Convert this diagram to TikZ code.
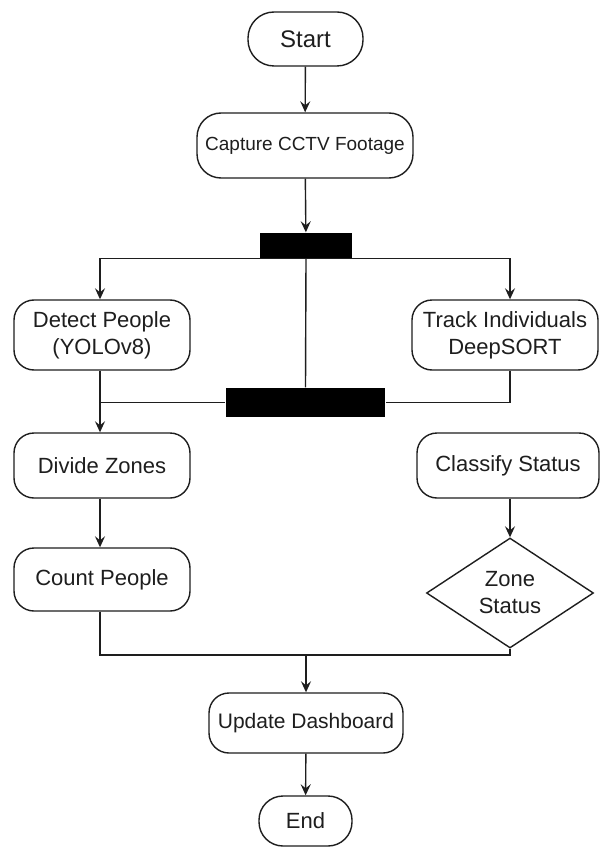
\documentclass[tikz,border=0pt]{standalone}
\usepackage{fontspec}
\setmainfont{Liberation Sans}
\usetikzlibrary{shapes.geometric,arrows.meta,calc}
\definecolor{ink}{RGB}{30,30,30}

\begin{document}
\begin{tikzpicture}[x=1pt,y=-1pt,
  line width=1.4pt, draw=ink, text=ink,
  txt/.style={font=\fontsize{22}{27}\selectfont, align=center, inner sep=0pt},
  term/.style={txt, draw=ink, fill=white},
  proc/.style={txt, draw=ink, fill=white, rounded corners=20pt},
  bar/.style={fill=black, draw=none, inner sep=0pt},
  decision/.style={txt, draw=ink, fill=white, diamond, aspect=1.52},
  link/.style={draw=ink},
  arr/.style={draw=ink, -{Stealth[length=11pt,width=10pt,inset=4pt]}}]

  \fill[white] (0,0) rectangle (601,850);
  \useasboundingbox (0,0) rectangle (601,850);

  % shared vertical lanes for the two branches
  \coordinate (lc) at (100,0);
  \coordinate (rc) at (510,0);

  % nodes
  \node[term, rounded corners=26pt, minimum width=115pt, minimum height=54pt,
        font=\fontsize{24}{28}\selectfont] (start) at (305.5,39) {Start};
  \node[proc, rounded corners=24pt, minimum width=216pt, minimum height=65pt,
        font=\fontsize{19}{23}\selectfont] (capture) at (305,145.5) {Capture CCTV Footage};
  \node[bar, minimum width=92pt, minimum height=25pt] (fork) at (306,245.5) {};

  \node[proc, minimum width=176pt, minimum height=70pt] (detect) at (102,335)
        {Detect People\\(YOLOv8)};
  \node[proc, minimum width=186pt, minimum height=70pt] (track) at (505,335)
        {Track Individuals\\DeepSORT};
  \node[bar, minimum width=159pt, minimum height=29pt] (join) at (305.5,402.5) {};

  \node[proc, minimum width=176pt, minimum height=65pt] (divide) at (102,465.5) {Divide Zones};
  \node[proc, minimum width=182pt, minimum height=65pt] (classify) at (508,465.5) {Classify Status};
  \node[proc, minimum width=176pt, minimum height=63pt] (count) at (102,579.5) {Count People};
  \node[decision, minimum width=167pt, minimum height=110pt, inner sep=0pt] (zone) at (510,593)
        {Zone\\Status};

  \coordinate (merge) at (306,655);

  \node[proc, minimum width=194pt, minimum height=60pt,
        font=\fontsize{21}{25}\selectfont] (update) at (306,723) {Update Dashboard};
  \node[term, rounded corners=24pt, minimum width=93pt, minimum height=50pt] (finish) at (305.5,821) {End};

  % connectors
  \draw[arr] (start) -- (capture);
  \draw[arr] (capture) -- (fork);
  \draw[arr] (fork.south) -| (detect.north -| lc);
  \draw[arr] (fork.south) -| (track.north -| rc);
  \draw[link] (fork.south) -- (join.north);
  \draw[link] (detect.south -| lc) |- (join.west);
  \draw[link] (track.south -| rc) |- (join.east);
  \draw[arr] (join.west -| lc) -- (divide.north -| lc);
  \draw[arr] (divide.south -| lc) -- (count.north -| lc);
  \draw[arr] (classify.south -| rc) -- (zone.north);
  \draw[link] (count.south -| lc) |- (merge);
  \draw[link] (zone.south) |- (merge);
  \draw[arr] (merge) -- (update);
  \draw[arr] (update) -- (finish);
\end{tikzpicture}
\end{document}
